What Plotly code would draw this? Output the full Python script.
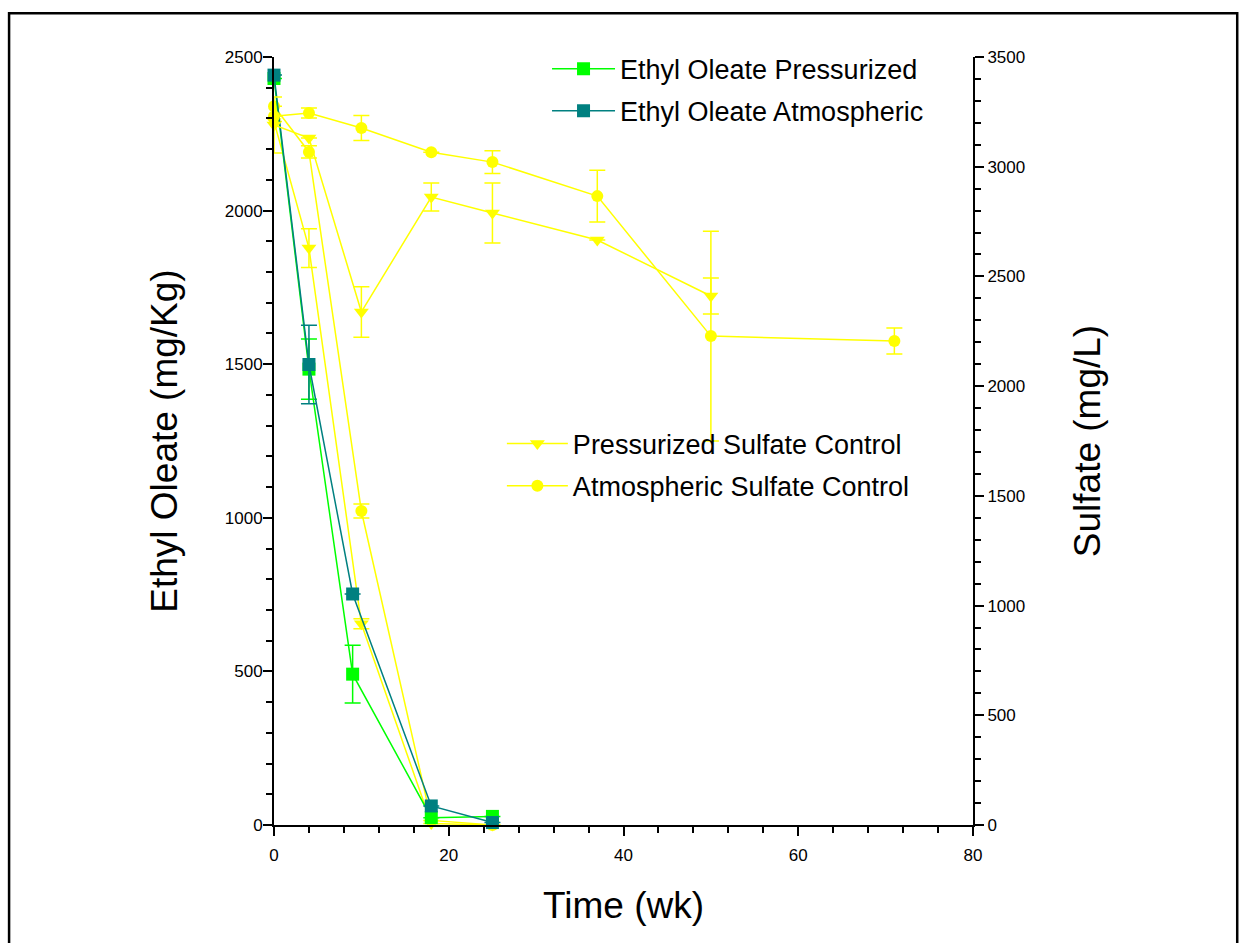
import plotly.graph_objects as go

# ---------------- data ----------------
eo_time = [0, 4, 9, 18, 25]
eo_press = [2430, 1484, 491, 24, 28]
eo_press_err = [0, 98, 94, 0, 0]
eo_atm = [2441, 1499, 752, 62, 8]
eo_atm_err = [0, 128, 0, 0, 0]

ctrl_time = [0, 4, 10, 18, 25]
ctrl_press_eo = [2290, 1878, 655, 5, 0]
ctrl_press_eo_err = [0, 63, 16, 0, 0]
ctrl_atm_eo = [2340, 2191, 1022, 15, 0]
ctrl_atm_eo_err = [0, 20, 23, 0, 0]

sulf_press_time = [0, 4, 10, 18, 25, 37, 50]
sulf_press = [3190, 3131, 2338, 2862, 2789, 2666, 2411]
sulf_press_err = [128, 0, 115, 64, 137, 0, 82]

sulf_atm_time = [0, 4, 10, 18, 25, 37, 50, 71]
sulf_atm = [3230, 3245, 3176, 3066, 3021, 2866, 2228, 2206]
sulf_atm_err = [0, 23, 57, 0, 52, 118, 478, 59]

x_ticks = [0, 20, 40, 60, 80]
y_left_ticks = [0, 500, 1000, 1500, 2000, 2500]
y_right_ticks = [0, 500, 1000, 1500, 2000, 2500, 3000, 3500]

GREEN = "#00FF00"
TEAL = "#008080"
YELLOW = "#FFFF00"
FONT = "Arial, Liberation Sans, sans-serif"


def err(arr, color):
    return dict(type="data", array=arr, visible=True, color=color,
                thickness=1.5, width=8)


fig = go.Figure()

# descending yellow control lines (no legend entry)
fig.add_trace(go.Scatter(x=ctrl_time, y=ctrl_press_eo, mode="lines+markers",
                         line=dict(color=YELLOW, width=1.5),
                         marker=dict(symbol="triangle-down", size=13, color=YELLOW),
                         error_y=err(ctrl_press_eo_err, YELLOW), showlegend=False,
                         cliponaxis=False))
fig.add_trace(go.Scatter(x=ctrl_time, y=ctrl_atm_eo, mode="lines+markers",
                         line=dict(color=YELLOW, width=1.5),
                         marker=dict(symbol="circle", size=12, color=YELLOW),
                         error_y=err(ctrl_atm_eo_err, YELLOW), showlegend=False,
                         cliponaxis=False))

fig.add_trace(go.Scatter(x=eo_time, y=eo_press, mode="lines+markers",
                         name="Ethyl Oleate Pressurized",
                         line=dict(color=GREEN, width=1.5),
                         marker=dict(symbol="square", size=13, color=GREEN),
                         error_y=err(eo_press_err, GREEN), legend="legend",
                         legendgroup="a", cliponaxis=False))
fig.add_trace(go.Scatter(x=eo_time, y=eo_atm, mode="lines+markers",
                         name="Ethyl Oleate Atmospheric",
                         line=dict(color=TEAL, width=1.5),
                         marker=dict(symbol="square", size=13, color=TEAL),
                         error_y=err(eo_atm_err, TEAL), legend="legend",
                         legendgroup="b", cliponaxis=False))

fig.add_trace(go.Scatter(x=sulf_press_time, y=sulf_press, mode="lines+markers",
                         name="Pressurized Sulfate Control", yaxis="y2",
                         line=dict(color=YELLOW, width=1.5),
                         marker=dict(symbol="triangle-down", size=13, color=YELLOW),
                         error_y=err(sulf_press_err, YELLOW), legend="legend2",
                         legendgroup="c", cliponaxis=False))
fig.add_trace(go.Scatter(x=sulf_atm_time, y=sulf_atm, mode="lines+markers",
                         name="Atmospheric Sulfate Control", yaxis="y2",
                         line=dict(color=YELLOW, width=1.5),
                         marker=dict(symbol="circle", size=12, color=YELLOW),
                         error_y=err(sulf_atm_err, YELLOW), legend="legend2",
                         legendgroup="d", cliponaxis=False))

axis_common = dict(showline=True, linecolor="black", linewidth=2,
                   ticks="outside", ticklen=9, tickwidth=1.5, tickcolor="black",
                   showgrid=False, zeroline=False,
                   tickfont=dict(family=FONT, size=17, color="black"))

fig.update_layout(
    width=1241, height=943,
    margin=dict(l=274, r=268, t=57, b=118),
    paper_bgcolor="white", plot_bgcolor="white",
    font=dict(family=FONT, color="black"),
    xaxis=dict(range=[0, 80], tickvals=x_ticks, ticklabelstandoff=5,
               minor=dict(ticks="outside", ticklen=6, dtick=4, tickwidth=1.5,
                          tickcolor="black"),
               title=dict(text="Time (wk)", font=dict(family=FONT, size=37),
                          standoff=28),
               **axis_common),
    yaxis=dict(range=[0, 2500], tickvals=y_left_ticks, ticklabelstandoff=-3,
               minor=dict(ticks="outside", ticklen=6, dtick=100, tickwidth=1.5,
                          tickcolor="black"),
               title=dict(text="Ethyl Oleate (mg/Kg)", font=dict(family=FONT, size=37),
                          standoff=36),
               **axis_common),
    yaxis2=dict(range=[0, 3500], tickvals=y_right_ticks, overlaying="y",
                side="right", anchor="x",
                minor=dict(ticks="outside", ticklen=6, dtick=100, tickwidth=1.5,
                           tickcolor="black"),
                title=dict(text="Sulfate (mg/L)", font=dict(family=FONT, size=37),
                           standoff=50),
                **axis_common),
    legend=dict(x=0.3906, y=1.016, xanchor="left", yanchor="top",
                bgcolor="rgba(0,0,0,0)", itemwidth=63,
                font=dict(family=FONT, size=27, color="black"),
                traceorder="grouped", tracegroupgap=4),
    legend2=dict(x=0.326, y=0.528, xanchor="left", yanchor="top",
                 bgcolor="rgba(0,0,0,0)", itemwidth=61,
                 font=dict(family=FONT, size=27, color="black"),
                 traceorder="grouped", tracegroupgap=4),
    shapes=[dict(type="rect", xref="paper", yref="paper",
                 x0=-0.379, x1=1.378, y0=-0.3, y1=1.057,
                 line=dict(color="black", width=2.5), fillcolor="rgba(0,0,0,0)",
                 layer="below")],
)

fig.write_html("out.html")
